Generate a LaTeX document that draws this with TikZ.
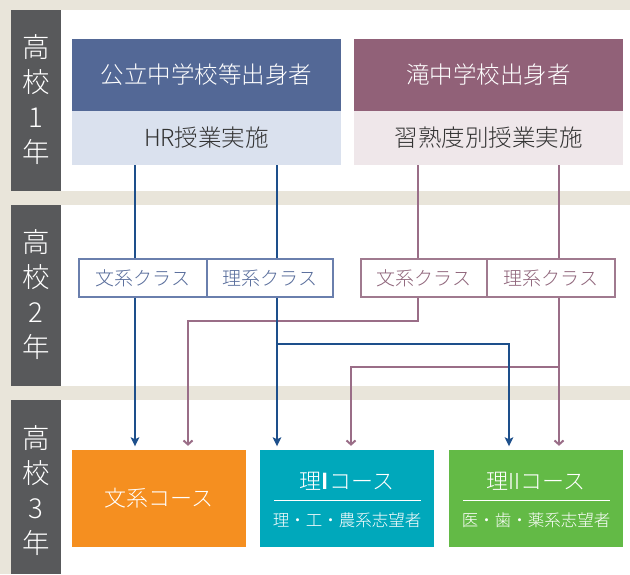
\documentclass[tikz,border=0pt]{standalone}
\usepackage{fontspec}
\IfFontExistsTF{Noto Sans CJK JP Light}
  {\setmainfont{Noto Sans CJK JP Light}[BoldFont=Noto Sans CJK JP Bold]}
  {\IfFontExistsTF{Noto Sans CJK JP DemiLight}
    {\setmainfont{Noto Sans CJK JP DemiLight}[BoldFont=Noto Sans CJK JP Bold]}
    {\setmainfont{Noto Sans CJK JP}}}
\usetikzlibrary{arrows.meta}
\definecolor{beige}{HTML}{E9E5DA}
\definecolor{darkbar}{HTML}{58595B}
\definecolor{pubdark}{HTML}{536896}
\definecolor{publight}{HTML}{DAE1EE}
\definecolor{takidark}{HTML}{916178}
\definecolor{takilight}{HTML}{EFE7EA}
\definecolor{blueline}{HTML}{1D4F8B}
\definecolor{mauveline}{HTML}{9A6D87}
\definecolor{blueborder}{HTML}{6A7FAD}
\definecolor{bluetext}{HTML}{566B9A}
\definecolor{mauveborder}{HTML}{A07A8F}
\definecolor{mauvetext}{HTML}{8E6379}
\definecolor{orangec}{HTML}{F58F20}
\definecolor{tealc}{HTML}{00A8BB}
\definecolor{greenc}{HTML}{63BA46}
\definecolor{graytext}{HTML}{333333}
\begin{document}
\begin{tikzpicture}[x=1pt,y=-1pt,
  yearlbl/.style={text=white,align=center,font=\fontsize{27.5}{35}\selectfont,inner sep=0pt},
  headbox/.style={minimum width=269pt,minimum height=72pt,inner sep=0pt,text=white,font=\fontsize{23.5}{28}\selectfont},
  subbox/.style={minimum width=269pt,minimum height=54pt,inner sep=0pt,text=graytext,font=\fontsize{23.5}{28}\selectfont},
  classbox/.style={draw,line width=1.5pt,fill=white,minimum height=38pt,inner sep=0pt,font=\fontsize{19}{23}\selectfont},
  coursebox/.style={minimum width=174pt,minimum height=97pt,inner sep=0pt,text=white},
  coursetitle/.style={text=white,inner sep=0pt,font=\fontsize{22}{26}\selectfont},
  coursesub/.style={text=white,inner sep=0pt,font=\fontsize{16.5}{20}\selectfont},
  bl/.style={draw=blueline,line width=2pt},
  ml/.style={draw=mauveline,line width=2pt},
  blarrow/.style={bl,-{Stealth[length=9pt,width=8.5pt,inset=2pt]},shorten >=3.5pt},
  mlarrow/.style={ml,-{Straight Barb[length=4pt,width=9pt]},shorten >=4pt}
]
\useasboundingbox (0,0) rectangle (630,574);
% background
\fill[beige] (0,0) rectangle (630,574);
\fill[white] (61,10) rectangle (630,191);
\fill[white] (61,205) rectangle (630,386);
\fill[white] (61,400) rectangle (630,574);
\fill[darkbar] (11,10) rectangle (61,191);
\fill[darkbar] (11,205) rectangle (61,386);
\fill[darkbar] (11,400) rectangle (61,574);
\node[yearlbl] (y1) at (36,100) {高\\校\\1\\年};
\node[yearlbl] (y2) at (36,295) {高\\校\\2\\年};
\node[yearlbl] (y3) at (36,491) {高\\校\\3\\年};
% row 1
\node[headbox,fill=pubdark] (pubH) at (206.5,75) {公立中学校等出身者};
\node[subbox,fill=publight] (pubL) at (206.5,138) {HR授業実施};
\node[headbox,fill=takidark] (takiH) at (488.5,75) {滝中学校出身者};
\node[subbox,fill=takilight] (takiL) at (488.5,138) {習熟度別授業実施};
% row 2
\node[classbox,draw=blueborder,text=bluetext,minimum width=128pt] (bunA) at (143,278) {文系クラス};
\node[classbox,draw=blueborder,text=bluetext,minimum width=126pt] (riA) at (270,278) {理系クラス};
\node[classbox,draw=mauveborder,text=mauvetext,minimum width=126pt] (bunB) at (424,278) {文系クラス};
\node[classbox,draw=mauveborder,text=mauvetext,minimum width=128pt] (riB) at (551,278) {理系クラス};
% row 3
\node[coursebox,fill=orangec] (c1) at (159,498.5) {};
\node[coursetitle] (c1t) at (159,498.5) {文系コース};
\node[coursebox,fill=tealc] (c2) at (347,498.5) {};
\node[coursetitle] (c2t) at (347,481) {理{\bfseries I}コース};
\node[coursesub] (c2s) at (347,520.5) {理・工・農系志望者};
\node[coursebox,fill=greenc] (c3) at (536,498.5) {};
\node[coursetitle] (c3t) at (536,481) {理IIコース};
\node[coursesub] (c3s) at (536,520.5) {医・歯・薬系志望者};
\coordinate (s2a) at (274,500);
\coordinate (s2b) at (421,500);
\coordinate (s3a) at (463,500);
\coordinate (s3b) at (610,500);
\draw[white,line width=1pt] (s2a) -- (s2b);
\draw[white,line width=1pt] (s3a) -- (s3b);
% x positions
\coordinate (xb1) at (135,0);
\coordinate (xb2) at (277,0);
\coordinate (xb3) at (509,0);
\coordinate (xm0) at (188,0);
\coordinate (xm1) at (418,0);
\coordinate (xm2) at (559,0);
\coordinate (xm3) at (351,0);
\coordinate (k1) at (418,321);
\coordinate (k2) at (559,367);
\coordinate (j1) at (277,344);
% mauve connectors
\draw[ml] (takiL.south -| xm1) -- (bunB.north -| xm1);
\draw[mlarrow] (bunB.south -| xm1) -- (k1) -| (c1.north -| xm0);
\draw[ml] (takiL.south -| xm2) -- (riB.north -| xm2);
\draw[mlarrow] (riB.south -| xm2) -- (c3.north -| xm2);
\draw[mlarrow] (k2) -| (c2.north -| xm3);
% blue connectors
\draw[bl] (pubL.south -| xb1) -- (bunA.north -| xb1);
\draw[blarrow] (bunA.south -| xb1) -- (c1.north -| xb1);
\draw[bl] (pubL.south -| xb2) -- (riA.north -| xb2);
\draw[blarrow] (riA.south -| xb2) -- (c2.north -| xb2);
\draw[blarrow] (j1) -| (c3.north -| xb3);
\end{tikzpicture}
\end{document}
